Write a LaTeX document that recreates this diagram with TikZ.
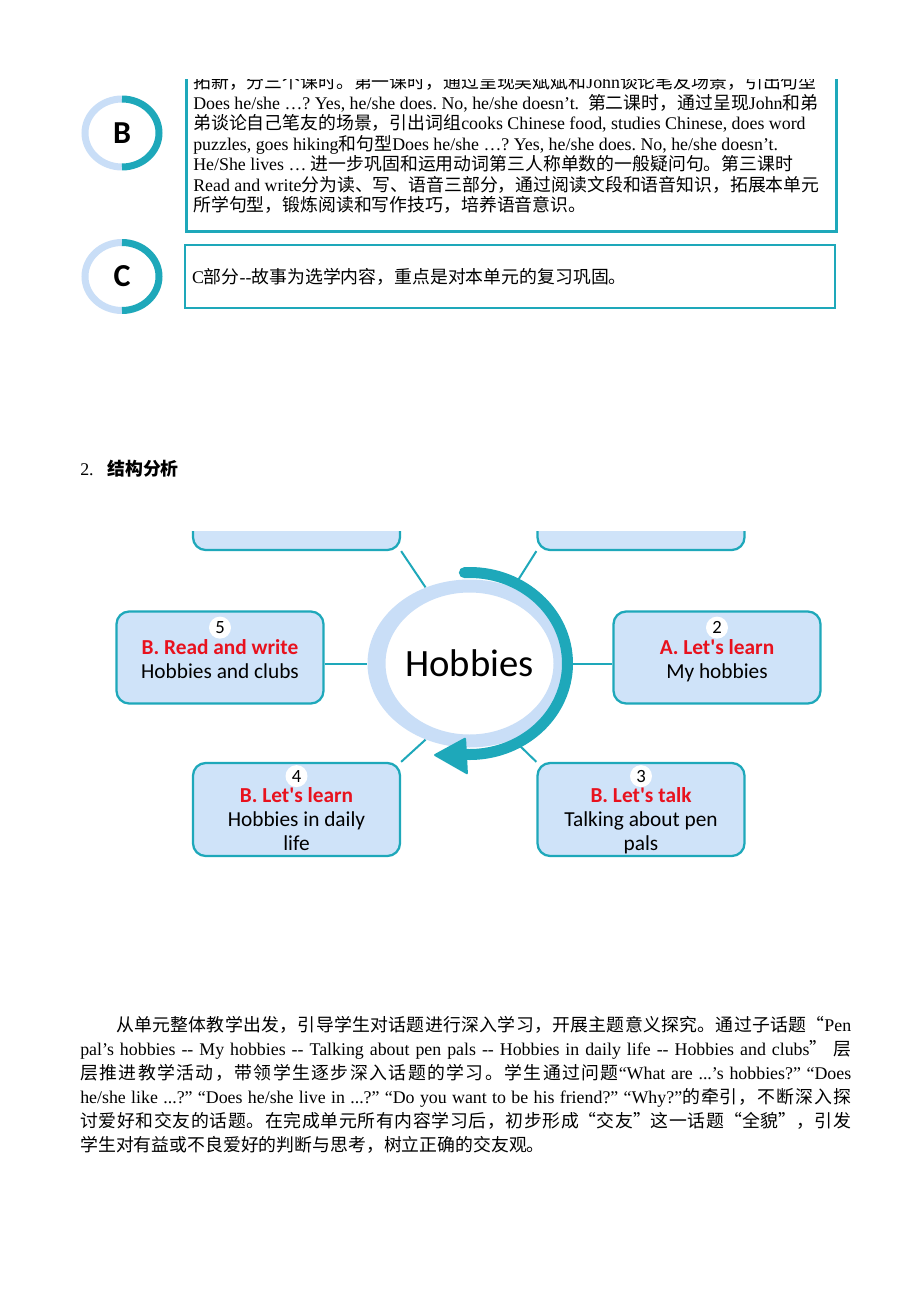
\documentclass[tikz,border=0pt]{standalone}
\usepackage{fontspec}
\setmainfont{Liberation Serif}
\newfontfamily\cjk{Noto Sans CJK SC}
\newfontfamily\hobfont{Carlito}
\usetikzlibrary{calc,positioning,shapes.geometric,backgrounds}

% colours of the unit overview
\definecolor{hobteal}{RGB}{30,168,186}
\definecolor{hobblue}{RGB}{207,227,249}
\definecolor{ringblue}{RGB}{201,222,247}
\definecolor{titlered}{RGB}{232,18,30}

\newcommand{\redtitle}[1]{{\color{titlered}\bfseries #1}}

% Chinese characters are set in the CJK family
\XeTeXinterchartokenstate=1
\newXeTeXintercharclass\zhclass
\newcount\zhcnt
\def\zhrange#1#2{\zhcnt=#1\relax
  \loop\XeTeXcharclass\zhcnt=\zhclass
  \ifnum\zhcnt<#2\advance\zhcnt by 1\relax\repeat}
\zhrange{"3000}{"303F}
\zhrange{"4E00}{"9FFF}
\zhrange{"FF00}{"FFEF}
\zhcnt=0
\loop
  \ifnum\zhcnt=\zhclass\else
    \XeTeXinterchartoks\zhcnt\zhclass={\begingroup\cjk}
    \XeTeXinterchartoks\zhclass\zhcnt={\endgroup}
  \fi
\ifnum\zhcnt<12\advance\zhcnt by 1\relax\repeat
\XeTeXinterchartoks 4095 \zhclass={\begingroup\cjk}
\XeTeXinterchartoks \zhclass 4095={\endgroup}
\XeTeXinterchartoks \zhclass \zhclass={\hskip0pt plus 2pt minus 0.5pt\relax}
\tolerance=5000
\frenchspacing

\begin{document}
\begin{tikzpicture}
		[x=0.75pt, y=0.75pt, font=\fontsize{13.4pt}{15.4pt}\selectfont,
		% STYLES
		% framed boxes of the unit overview
		partbox/.style={rectangle, draw=hobteal, line width=1.9pt, inner xsep=5.25pt, text width=477pt, align=flush left},
		% letters inside the half coloured rings
		partletter/.style={circle, inner sep=0pt, minimum size=40pt, font=\hobfont\bfseries\fontsize{24pt}{24pt}\selectfont},
		ringleft/.style={draw=ringblue, line width=5.25pt},
		ringright/.style={draw=hobteal, line width=5.25pt},
		% plain text of the page
		bodytext/.style={inner sep=0pt, anchor=base west},
		% the boxes round the hub
		topic/.style={rectangle, rounded corners=9.5pt, draw=hobteal, line width=1.7pt, fill=hobblue, minimum width=155.25pt, minimum height=69pt},
		topictext/.style={align=center, inner sep=0pt, font=\hobfont\fontsize{16pt}{18pt}\selectfont},
		numdot/.style={circle, fill=white, inner sep=0pt, minimum size=16.5pt, font=\hobfont\fontsize{14pt}{14pt}\selectfont},
		hubtext/.style={ellipse, inner sep=0pt, minimum width=153pt, minimum height=126pt, font=\hobfont\fontsize{29pt}{29pt}\selectfont},
		spoke/.style={color=hobteal, line width=1.5pt}]

		\useasboundingbox (0,0) rectangle (920,-1302);
		\begin{scope}[on background layer]
			\fill[white] (0,0) rectangle (920,-1302);
		\end{scope}

		%%%%%%%%%%%%%%%
		% Parts B and C
		\begin{scope}
			\clip (0,-80) rectangle (920,-320);
			\node[partbox, anchor=south west, inner ysep=13.5pt] (boxB) at (185,-233) {%
				拓新，分三个课时。第一课时，通过呈现吴斌斌和John谈论笔友场景，引出句型\\
				Does he/she …? Yes, he/she does. No, he/she doesn’t.\ \ 第二课时，通过呈现John和弟\\
				弟谈论自己笔友的场景，引出词组cooks Chinese food, studies Chinese, does word\\
				puzzles, goes hiking和句型Does he/she …? Yes, he/she does. No, he/she doesn’t.\\
				He/She lives … 进一步巩固和运用动词第三人称单数的一般疑问句。第三课时\\
				Read and write分为读、写、语音三部分，通过阅读文段和语音知识，拓展本单元\\
				所学句型，锻炼阅读和写作技巧，培养语音意识。};
			\node[partbox, minimum height=47.25pt] (boxC) at (510,-276.5) {C部分-{}-故事为选学内容，重点是对本单元的复习巩固。};
		\end{scope}

		\node[partletter] (circB) at (122,-133) {B};
		\draw[ringleft] ([shift={(90:37 and 34)}]circB.center) arc[start angle=90, end angle=270, x radius=37, y radius=34];
		\draw[ringright] ([shift={(90:37 and 34)}]circB.center) arc[start angle=90, end angle=-90, x radius=37, y radius=34];

		\node[partletter] (circC) at (122,-276.5) {C};
		\draw[ringleft] ([shift={(90:37 and 34)}]circC.center) arc[start angle=90, end angle=270, x radius=37, y radius=34];
		\draw[ringright] ([shift={(90:37 and 34)}]circC.center) arc[start angle=90, end angle=-90, x radius=37, y radius=34];

		%%%%%%%%%%%%%%%
		% Heading
		\node[bodytext] (secnum) at (80,-475.5) {2.};
		\node[bodytext, font=\fontsize{13.4pt}{15.4pt}\selectfont\bfseries] (sectitle) at (107,-475.5) {结构分析};

		%%%%%%%%%%%%%%%
		% The hobbies diagram
		\begin{scope}
			\clip (100,-531) rectangle (840,-870);
			\node[hubtext] (hub) at (469.5,-663.5) {Hobbies};

			\node[topic] (lesson6) at (296.5,-504) {};
			\node[topic] (lesson1) at (641,-504) {};

			\node[topic] (lesson5) at (220,-657.5) {};
			\node[numdot, below=4.5pt of lesson5.north] (num5) {5};
			\node[topictext, below=0pt of num5] (text5) {\redtitle{B. Read and write}\\Hobbies and clubs};

			\node[topic] (lesson2) at (717,-657.5) {};
			\node[numdot, below=4.5pt of lesson2.north] (num2) {2};
			\node[topictext, below=0pt of num2] (text2) {\redtitle{A. Let's learn}\\My hobbies};

			\node[topic, minimum height=69.75pt] (lesson4) at (296.5,-809.5) {};
			\node[numdot, below=2.25pt of lesson4.north] (num4) {4};
			\node[topictext, below=0pt of num4] (text4) {\redtitle{B. Let's learn}\\Hobbies in daily\\life};

			\node[topic, minimum height=69.75pt] (lesson3) at (641,-809.5) {};
			\node[numdot, below=2.25pt of lesson3.north] (num3) {3};
			\node[topictext, below=0pt of num3] (text3) {\redtitle{B. Let's talk}\\Talking about pen\\pals};

			% ring with the turning arrow
			\fill[ringblue, even odd rule] (hub.center) ellipse [x radius=102, y radius=84] (hub.center) ellipse [x radius=84, y radius=71];
			\draw[hobteal, line width=8.25pt, line cap=round] ([shift={(93:98 and 91)}]hub.center) arc[start angle=93, end angle=-92, x radius=98, y radius=91];
			\fill[hobteal, rounded corners=1.5pt] (433,-755) -- (466,-737) -- (468,-775) -- cycle;
		\end{scope}

		%%%%%%%%%%%%%%%%
		% the spokes between the hub and the boxes
		\begin{scope}[on background layer]
			\path[spoke]
				(lesson6.south east) edge (hub.120)
				(lesson1.south west) edge (hub.60)
				(hub.west -| lesson5.east) edge (hub.west)
				(hub.east -| lesson2.west) edge (hub.east)
				(lesson4.north east) edge (hub.240)
				(lesson3.north west) edge (hub.300);
		\end{scope}

		%%%%%%%%%%%%%%%
		% Closing paragraph
		\node[bodytext, text width=578.25pt, align=justify, font=\fontsize{13.4pt}{18pt}\selectfont] (summary) at (80,-1031.8) {%
			\hspace*{2em}从单元整体教学出发，引导学生对话题进行深入学习，开展主题意义探究。通过子话题{\cjk “}Pen\linebreak
			pal’s hobbies -{}- My hobbies -{}- Talking about pen pals -{}- Hobbies in daily life -{}- Hobbies and clubs{\cjk ”} 层\linebreak
			层推进教学活动，带领学生逐步深入话题的学习。学生通过问题“What are ...’s hobbies?” “Does\linebreak
			he/she like ...?” “Does he/she live in ...?” “Do you want to be his friend?” “Why?”的牵引，不断深入探\linebreak
			讨爱好和交友的话题。在完成单元所有内容学习后，初步形成{\cjk “}交友{\cjk ”}这一话题{\cjk “}全貌{\cjk ”}，引发\linebreak
			学生对有益或不良爱好的判断与思考，树立正确的交友观。};
\end{tikzpicture}
\end{document}
